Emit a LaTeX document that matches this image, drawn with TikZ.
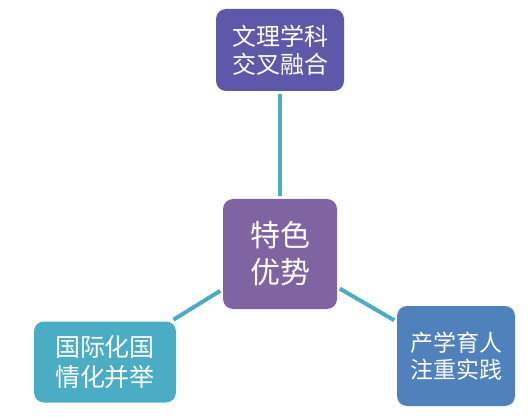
\documentclass[tikz,border=0pt]{standalone}
\usepackage{fontspec}
\setmainfont{Noto Sans CJK SC}
\usetikzlibrary{positioning}
\definecolor{topblue}{RGB}{94,88,170}
\definecolor{midpurple}{RGB}{128,100,162}
\definecolor{leftteal}{RGB}{75,172,198}
\definecolor{rightblue}{RGB}{79,129,189}
\tikzset{
  box/.style  = {rounded corners=10pt, inner sep=0pt, align=center,
                 text=white},
  link/.style = {draw=leftteal, line width=4pt, shorten <=3pt, shorten >=3pt},
}
\begin{document}
\begin{tikzpicture}[x=1pt,y=-1pt]
\useasboundingbox (0,0) rectangle (528,417);
\node[box,fill=midpurple,minimum width=114pt,minimum height=110pt,
      font=\fontsize{30}{37}\selectfont] (core) at (280,254) {特色\\优势};
\node[box,fill=topblue,minimum width=128pt,minimum height=82pt,
      font=\fontsize{24}{28}\selectfont] (disc) at (280,50) {文理学科\\交叉融合};
\node[box,fill=leftteal,minimum width=142pt,minimum height=81pt,
      font=\fontsize{25}{30}\selectfont] (intl) at (105,362) {国际化国\\情化并举};
\node[box,fill=rightblue,minimum width=118pt,minimum height=100pt,
      font=\fontsize{23}{27}\selectfont] (prac) at (456,356) {产学育人\\注重实践};
\draw[link] (core) -- (disc);
\draw[link] (core) -- (intl);
\draw[link] (core) -- (prac);
\end{tikzpicture}
\end{document}
